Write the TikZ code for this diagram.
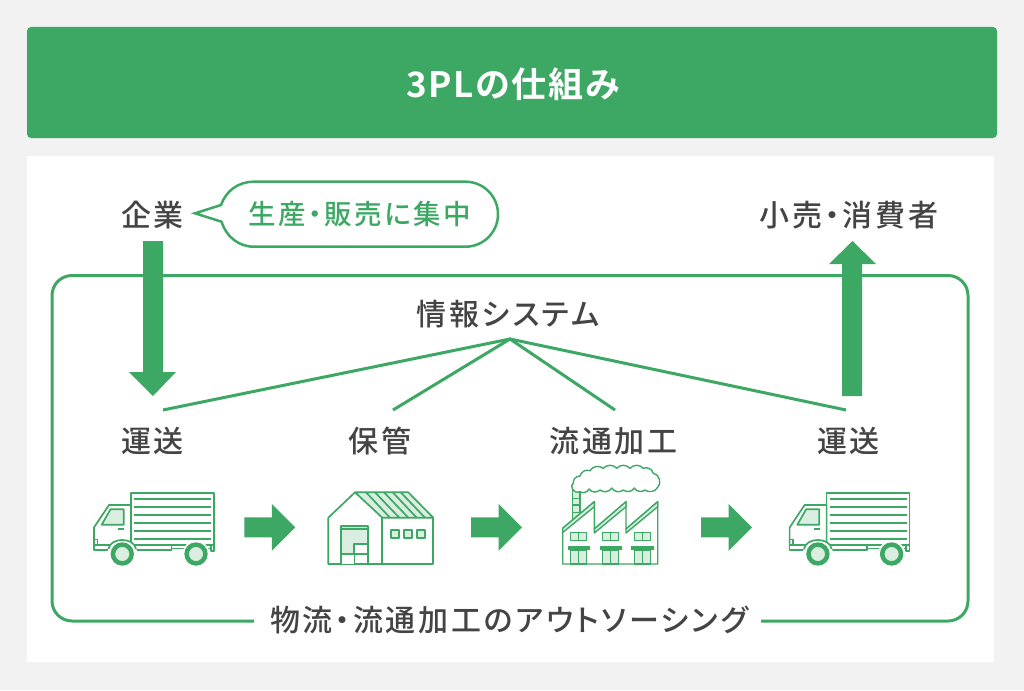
\documentclass[tikz,border=0pt]{standalone}
\usepackage{fontspec}
\setmainfont{Noto Sans CJK JP Medium}
\newfontfamily\fa[LetterSpace=9,RawFeature={+palt}]{Noto Sans CJK JP Medium}
\newfontfamily\fd[LetterSpace=9,RawFeature={+palt}]{Noto Sans CJK JP Medium}
\newfontfamily\fe[LetterSpace=5,RawFeature={+palt}]{Noto Sans CJK JP Bold}
\definecolor{gr}{HTML}{3CA863}
\definecolor{lg}{HTML}{D9EEE0}
\definecolor{ink}{HTML}{444444}
\definecolor{pg}{HTML}{F2F2F2}
\newcommand{\labfont}{\fa\fontsize{30}{30}\selectfont}
\tikzset{
  x=1pt,y=-1pt,
  lab/.style={text=ink,inner sep=0pt,font=\labfont},
  icon/.style={draw=gr,line width=1.7pt,line join=round},
  conn/.style={draw=gr,line width=3pt},
  truckpic/.pic={
    % cargo box
    \draw[icon] (131,545) -- (131,493) -- (214,493) -- (214,545);
    \foreach \yy in {499,507,515,523,531,539}{\draw[icon] (134,\yy) -- (211,\yy);}
    % cab
    \draw[icon,fill=white] (94,549) -- (94,527.5) -- (109,505) -- (131,505) -- (131,549);
    \draw[icon,fill=lg] (101.7,524.7) -- (110.5,509.3) -- (123.7,509.3) -- (123.7,524.7) -- cycle;
    \draw[icon] (118,528.7) -- (124,528.7);
    \draw[icon] (94,539.5) -- (97.5,539.5) -- (97.5,544.5) -- (94,544.5);
    % chassis
    \draw[icon,fill=white] (171.5,545) rectangle (211,548.5);
    \draw[icon,fill=white] (94,545) rectangle (171.5,550);
    \draw[icon,fill=white] (210.7,545) rectangle (214,550.7);
    % wheels
    \fill[white] (122.3,554) circle (15);
    \draw[icon] (108.5,549) .. controls (110,537) and (134.5,537) .. (136,549);
    \draw[draw=gr,fill=lg,line width=4.5pt] (122.3,554) circle (9.4);
    \fill[white] (196,554) circle (13.5);
    \draw[draw=gr,fill=lg,line width=4.5pt] (196,554) circle (9.4);
  },
  bigarrow/.pic={
    \fill[gr] (0,-10) -- (27.5,-10) -- (27.5,-23.5) -- (51,0) -- (27.5,23.5) -- (27.5,10) -- (0,10) -- cycle;
  }
}
\begin{document}
\begin{tikzpicture}
\useasboundingbox (0,0) rectangle (1024,690);
\fill[pg] (0,0) rectangle (1024,690);
\fill[white] (27,156) rectangle (994,662);
\fill[gr,rounded corners=4pt] (27,27) rectangle (997,138);
\node[inner sep=0pt,text=white] (title) at (513,84) {\fe\fontsize{35}{35}\selectfont 3PLの仕組み};

% frame
\coordinate (fl) at (254,621);
\coordinate (fr) at (761,621);
\draw[conn,rounded corners=20pt] (fl) -- (52,621) -- (52,275.5) -- (968,275.5) -- (968,621) -- (fr);
\node[lab] (outs) at (509,620) {物流・流通加工のアウトソーシング};

% top labels
\node[lab] (corp) at (152.5,215) {企業};
\node[lab] (retail) at (849,215) {小売・消費者};
\draw[draw=gr,line width=2.5pt,line join=miter,fill=white]
  (195,213.3) -- (221,205) .. controls (226,191) and (238,181.7) .. (254,181.7)
  -- (465.5,181.7) arc (-90:90:32.5) -- (254,246.7)
  .. controls (238,246.7) and (226,236) .. (221.5,221.7) -- cycle;
\node[inner sep=0pt,text=gr] (focus) at (359.5,214) {\fd\fontsize{27.5}{27.5}\selectfont 生産・販売に集中};

% big arrows
\fill[gr] (143,241) -- (163,241) -- (163,372) -- (176,372) -- (153,396) -- (129,372) -- (143,372) -- cycle;
\fill[gr] (842,396) -- (862,396) -- (862,264) -- (876,264) -- (852.5,241) -- (829,264) -- (842,264) -- cycle;

% info system
\node[lab] (info) at (508,314) {情報システム};
\coordinate (hub) at (510,339);
\coordinate (ea) at (163,410);
\coordinate (eb) at (393,410);
\coordinate (ec) at (615,410);
\coordinate (ed) at (846,410);
\draw[conn,line join=miter] (ea) -- (hub) -- (ed);
\draw[conn,line join=miter] (eb) -- (hub) -- (ec);

\node[lab] (t1) at (152.5,441) {運送};
\node[lab] (st) at (380,441) {保管};
\node[lab] (pr) at (613.5,441) {流通加工};
\node[lab] (t2) at (848.5,441) {運送};

% trucks
\pic at (0,0) {truckpic};
\pic at (695.6,0) {truckpic};

% small arrows
\pic at (244.3,527.3) {bigarrow};
\pic at (471,527.3) {bigarrow};
\pic at (701,527.3) {bigarrow};

% warehouse
\begin{scope}[icon]
  \filldraw[fill=lg] (355,492.3) -- (408.3,492.3) -- (433.3,517.7) -- (382.3,517.7) -- cycle;
  \draw (328.3,564.3) -- (328.3,517.7) -- (355,492.3);
  \draw (328.3,564.3) -- (433.3,564.3) -- (433.3,517.7);
  \draw (382.3,517.7) -- (382.3,564.3);
  \draw (366,492.3) -- (390,517.7);
  \draw (375,492.3) -- (399.3,517.7);
  \draw (384,492.3) -- (408.3,517.7);
  \draw (392.7,492.3) -- (416.7,517.7);
  \draw (400.7,492.3) -- (425,517.7);
  \filldraw[fill=lg] (340.7,526) rectangle (368.3,564.3);
  \draw (340.7,528.7) -- (368.3,528.7);
  \filldraw[fill=white] (354.3,544) rectangle (368.3,564.3);
  \fill[white] (341.5,554.3) rectangle (354.3,563.5);
  \draw (340.7,554.3) -- (368.3,554.3);
  \filldraw[fill=lg] (391,530.3) rectangle (399.3,538.3);
  \filldraw[fill=lg] (404,530.3) rectangle (412.3,538.3);
  \filldraw[fill=lg] (417,530.3) rectangle (425.3,538.3);
\end{scope}

% factory
\begin{scope}[icon,line width=1.4pt]
  % chimney
  \filldraw[fill=lg] (572.5,489) rectangle (580,521);
  \draw (572.5,498.3) -- (580,498.3) (572.5,505) -- (580,505) (572.5,512.3) -- (580,512.3);
  % smoke
  \draw[fill=white,bend left=50] (573.3,483.3) to (580,476) to (590,470.7) to (603.3,468.3)
    to (616.7,468.3) to (630,468.3) to (643.3,468.3) to (653.3,473.3) to[bend left=70] (657.7,487.3)
    to (645,490) to (634.3,488) to (623.3,490) to (611.7,488) to (600,490) to (589,489)
    to (580,491.7) to (572.3,488.3) to (573.3,483.3);
  % building
  \draw[fill=white] (562.7,564) -- (562.7,528.3) -- (594.3,501.7) -- (594.3,529) -- (626,501.7) -- (626,529) -- (657.7,501.7) -- (657.7,564) -- cycle;
  \filldraw[fill=lg] (562.7,532.5) -- (562.7,528.3) -- (594.3,501.7) -- (594.3,506.7) -- cycle;
  \filldraw[fill=lg] (594.3,533) -- (594.3,529) -- (626,501.7) -- (626,506.7) -- cycle;
  \filldraw[fill=lg] (626,533) -- (626,529) -- (657.7,501.7) -- (657.7,506.7) -- cycle;
  \foreach \dx in {0,31.8,63.7}{
    \filldraw[fill=lg] (570.7+\dx,532.7) rectangle (586.7+\dx,540.7);
    \draw (578.5+\dx,532.7) -- (578.5+\dx,540.7);
    \filldraw[fill=lg] (570.7+\dx,550) rectangle (586.7+\dx,564);
    \draw (578.5+\dx,550) -- (578.5+\dx,564);
    \fill[gr] (567.7+\dx,546) rectangle (590+\dx,550);
  }
\end{scope}
\end{tikzpicture}
\end{document}
